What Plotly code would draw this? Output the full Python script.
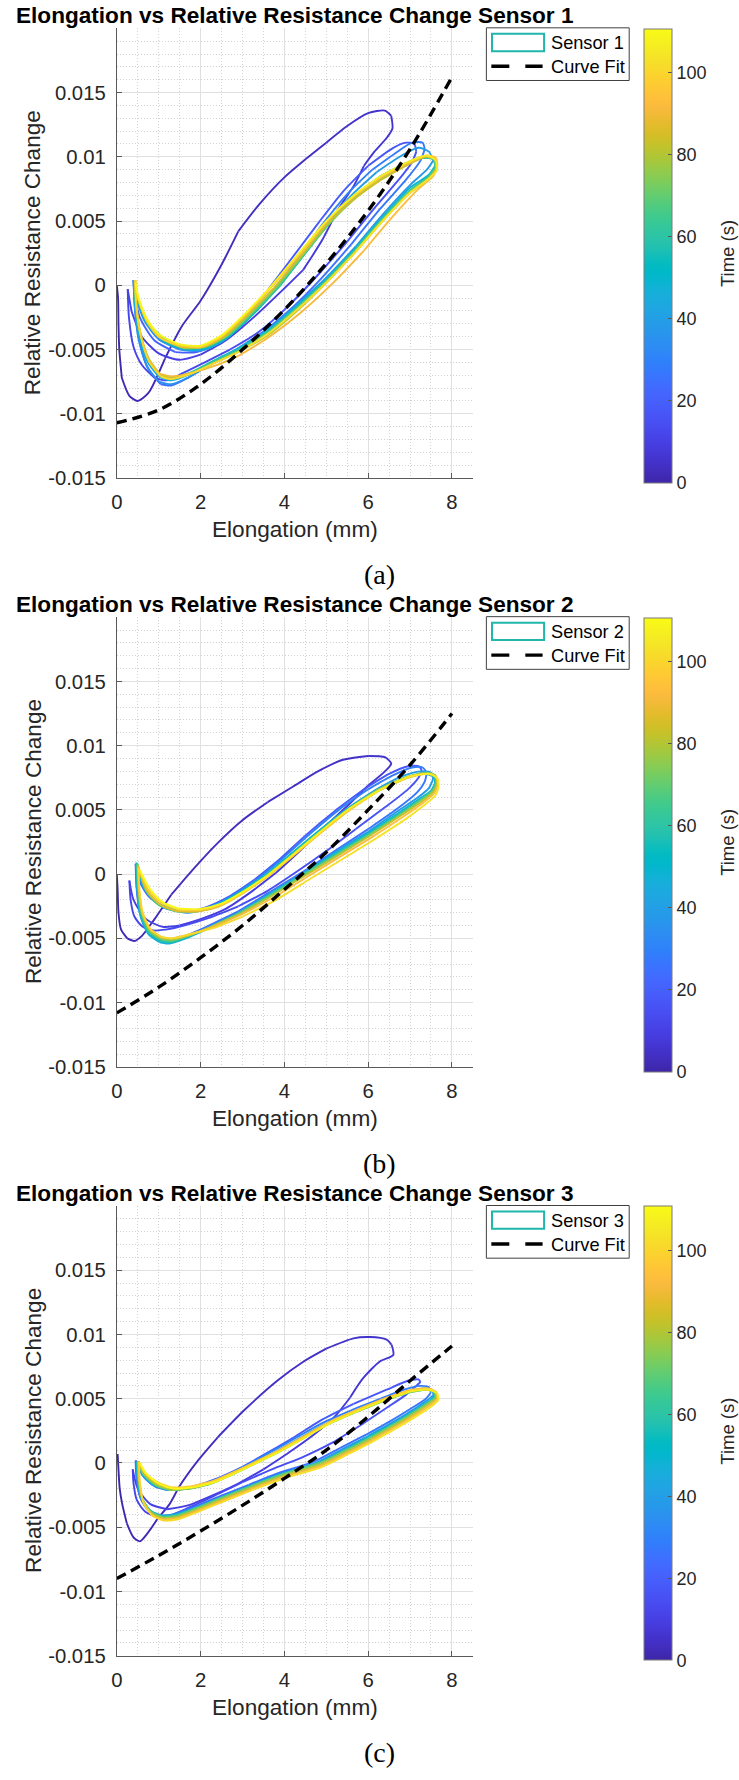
import plotly.graph_objects as go
from plotly.colors import sample_colorscale

W, H = 739, 1780
FONT = "Liberation Sans, Arial, Helvetica, sans-serif"
SERIF = "Liberation Serif, Times New Roman, serif"

# MATLAB parula colormap (64 entries)
PARULA = [
    (0.2422, 0.1504, 0.6603), (0.2504, 0.1650, 0.7076), (0.2578, 0.1818, 0.7511), (0.2647, 0.1978, 0.7952),
    (0.2706, 0.2147, 0.8364), (0.2751, 0.2342, 0.8710), (0.2783, 0.2559, 0.8991), (0.2803, 0.2782, 0.9221),
    (0.2813, 0.3006, 0.9414), (0.2810, 0.3228, 0.9579), (0.2795, 0.3447, 0.9717), (0.2760, 0.3667, 0.9829),
    (0.2699, 0.3892, 0.9906), (0.2602, 0.4123, 0.9952), (0.2440, 0.4358, 0.9988), (0.2206, 0.4603, 0.9973),
    (0.1963, 0.4847, 0.9892), (0.1834, 0.5074, 0.9798), (0.1786, 0.5289, 0.9682), (0.1764, 0.5499, 0.9520),
    (0.1687, 0.5703, 0.9359), (0.1540, 0.5902, 0.9218), (0.1460, 0.6091, 0.9079), (0.1380, 0.6276, 0.8973),
    (0.1248, 0.6459, 0.8883), (0.1113, 0.6635, 0.8763), (0.0952, 0.6798, 0.8598), (0.0689, 0.6948, 0.8394),
    (0.0297, 0.7082, 0.8163), (0.0036, 0.7203, 0.7917), (0.0067, 0.7312, 0.7660), (0.0433, 0.7411, 0.7394),
    (0.0964, 0.7500, 0.7120), (0.1408, 0.7584, 0.6842), (0.1717, 0.7670, 0.6554), (0.1938, 0.7758, 0.6251),
    (0.2161, 0.7843, 0.5923), (0.2470, 0.7918, 0.5567), (0.2906, 0.7973, 0.5188), (0.3406, 0.8008, 0.4789),
    (0.3909, 0.8029, 0.4354), (0.4456, 0.8024, 0.3909), (0.5044, 0.7993, 0.3480), (0.5616, 0.7942, 0.3045),
    (0.6174, 0.7876, 0.2612), (0.6720, 0.7793, 0.2227), (0.7242, 0.7698, 0.1910), (0.7738, 0.7598, 0.1646),
    (0.8203, 0.7498, 0.1535), (0.8634, 0.7406, 0.1596), (0.9035, 0.7330, 0.1774), (0.9393, 0.7288, 0.2100),
    (0.9728, 0.7298, 0.2394), (0.9956, 0.7434, 0.2371), (0.9970, 0.7659, 0.2199), (0.9952, 0.7893, 0.2028),
    (0.9892, 0.8136, 0.1885), (0.9786, 0.8386, 0.1766), (0.9676, 0.8639, 0.1643), (0.9610, 0.8890, 0.1537),
    (0.9597, 0.9135, 0.1423), (0.9628, 0.9373, 0.1265), (0.9691, 0.9606, 0.1064), (0.9769, 0.9839, 0.0805),
]
PARULA_SCALE = [[i / 63, "rgb(%d,%d,%d)" % (round(r * 255), round(g * 255), round(b * 255))]
                for i, (r, g, b) in enumerate(PARULA)]

# ---------------- data ----------------
T_MAX = 110.7                                   # end of recording (s)
CYCLE_EDGES = [0, 11, 22, 33, 44, 55, 66, 77, 88, 99, 110.7]   # start/end time of each stretch cycle (s)

FIT_X = [0, 1, 2, 3, 4, 5, 6, 7, 8]
S1_FIT = [-0.0107, -0.0097, -0.0077, -0.0050, -0.0019, 0.0017, 0.0058, 0.0106, 0.0162]
S2_FIT = [-0.0108, -0.0088, -0.0065, -0.0040, -0.0012, 0.0017, 0.0050, 0.0085, 0.0125]
S3_FIT = [-0.0090, -0.0072, -0.0053, -0.0033, -0.0012, 0.0010, 0.0036, 0.0064, 0.0091]

# (elongation mm, relative resistance change) along each cycle, sensor 1
S1_CYCLES = [
    [(0.00, 0.0000), (0.03, -0.0010), (0.04, -0.0030), (0.06, -0.0050), (0.12, -0.0072), (0.30, -0.0086),
     (0.50, -0.0090), (0.75, -0.0084), (1.15, -0.0057), (1.55, -0.0032), (2.00, -0.0012), (2.50, 0.0016),
     (2.90, 0.0042), (3.40, 0.0063), (4.00, 0.0084), (4.50, 0.0098), (5.00, 0.0111), (5.50, 0.0124),
     (6.00, 0.0134), (6.40, 0.0136), (6.55, 0.0132), (6.58, 0.0122), (6.45, 0.0115), (6.15, 0.0104),
     (5.90, 0.0093), (5.65, 0.0077), (5.30, 0.0060), (4.90, 0.0035), (4.45, 0.0012), (3.95, -0.0004),
     (3.30, -0.0024), (2.60, -0.0043), (2.00, -0.0054), (1.50, -0.0058), (1.00, -0.0053), (0.60, -0.0040),
     (0.35, -0.0020), (0.26, -0.0003)],
    [(0.26, -0.0003), (0.29, -0.0025), (0.40, -0.0048), (0.60, -0.0062), (0.90, -0.0072), (1.20, -0.0074),
     (1.60, -0.0068), (2.10, -0.0060), (2.70, -0.0050), (3.40, -0.0036), (4.10, -0.0016), (4.80, 0.0008),
     (5.50, 0.0034), (6.20, 0.0062), (6.80, 0.0085), (7.05, 0.0096), (7.15, 0.0104), (7.10, 0.0110),
     (6.90, 0.0111), (6.60, 0.0107), (6.00, 0.0093), (5.40, 0.0073), (4.80, 0.0048), (4.20, 0.0022),
     (3.60, -0.0004), (3.00, -0.0026), (2.40, -0.0044), (1.90, -0.0052), (1.40, -0.0052), (0.90, -0.0043),
     (0.55, -0.0025), (0.42, -0.0005), (0.40, 0.0004)],
    [(0.40, 0.0004), (0.44, -0.0020), (0.55, -0.0045), (0.75, -0.0065), (1.05, -0.0077), (1.30, -0.0078),
     (1.70, -0.0072), (2.20, -0.0062), (2.80, -0.0051), (3.50, -0.0036), (4.20, -0.0017), (4.90, 0.0006),
     (5.60, 0.0032), (6.30, 0.0060), (6.90, 0.0082), (7.25, 0.0097), (7.35, 0.0106), (7.30, 0.0111),
     (7.05, 0.0111), (6.70, 0.0104), (6.10, 0.0090), (5.50, 0.0071), (4.90, 0.0047), (4.30, 0.0020),
     (3.70, -0.0006), (3.10, -0.0027), (2.50, -0.0044), (2.00, -0.0051), (1.50, -0.0050), (1.00, -0.0042),
     (0.65, -0.0027), (0.45, -0.0008), (0.40, 0.0004)],
    [(0.40, 0.0004), (0.43, -0.0018), (0.52, -0.0042), (0.72, -0.0063), (1.00, -0.0075), (1.30, -0.0077),
     (1.75, -0.0071), (2.30, -0.0060), (2.90, -0.0050), (3.60, -0.0035), (4.30, -0.0015), (5.00, 0.0006),
     (5.70, 0.0030), (6.40, 0.0057), (7.00, 0.0078), (7.40, 0.0090), (7.55, 0.0097), (7.45, 0.0104),
     (7.20, 0.0107), (6.80, 0.0101), (6.20, 0.0088), (5.60, 0.0070), (5.00, 0.0048), (4.40, 0.0022),
     (3.80, -0.0003), (3.20, -0.0024), (2.60, -0.0042), (2.10, -0.0050), (1.60, -0.0050), (1.10, -0.0043),
     (0.70, -0.0029), (0.47, -0.0009), (0.41, 0.0004)],
    [(0.41, 0.0004), (0.44, -0.0017), (0.54, -0.0040), (0.74, -0.0060), (1.00, -0.0071), (1.30, -0.0074),
     (1.75, -0.0069), (2.30, -0.0059), (2.90, -0.0049), (3.60, -0.0035), (4.30, -0.0016), (5.00, 0.0005),
     (5.70, 0.0029), (6.40, 0.0055), (7.00, 0.0076), (7.45, 0.0086), (7.60, 0.0093), (7.55, 0.0099),
     (7.30, 0.0100), (6.90, 0.0095), (6.30, 0.0085), (5.70, 0.0070), (5.10, 0.0050), (4.50, 0.0025),
     (3.90, 0.0000), (3.30, -0.0021), (2.70, -0.0039), (2.20, -0.0048), (1.70, -0.0050), (1.20, -0.0045),
     (0.80, -0.0033), (0.52, -0.0013), (0.42, 0.0004)],
    [(0.42, 0.0004), (0.45, -0.0016), (0.55, -0.0038), (0.75, -0.0058), (1.00, -0.0069), (1.30, -0.0072),
     (1.75, -0.0068), (2.30, -0.0059), (2.90, -0.0050), (3.60, -0.0036), (4.30, -0.0017), (5.00, 0.0004),
     (5.70, 0.0028), (6.40, 0.0054), (7.00, 0.0074), (7.45, 0.0085), (7.60, 0.0092), (7.56, 0.0098),
     (7.30, 0.0099), (6.90, 0.0095), (6.30, 0.0084), (5.70, 0.0069), (5.10, 0.0049), (4.50, 0.0025),
     (3.90, 0.0000), (3.30, -0.0020), (2.70, -0.0038), (2.20, -0.0047), (1.70, -0.0048), (1.20, -0.0043),
     (0.80, -0.0031), (0.52, -0.0012), (0.43, 0.0004)],
    [(0.43, 0.0004), (0.46, -0.0016), (0.56, -0.0038), (0.76, -0.0058), (1.02, -0.0070), (1.30, -0.0073),
     (1.75, -0.0069), (2.30, -0.0060), (2.90, -0.0051), (3.60, -0.0037), (4.30, -0.0018), (5.00, 0.0003),
     (5.70, 0.0027), (6.40, 0.0053), (7.00, 0.0073), (7.45, 0.0084), (7.62, 0.0091), (7.58, 0.0098),
     (7.35, 0.0100), (6.90, 0.0094), (6.30, 0.0083), (5.70, 0.0068), (5.10, 0.0049), (4.40, 0.0022),
     (3.80, -0.0002), (3.20, -0.0022), (2.60, -0.0040), (2.10, -0.0048), (1.60, -0.0049), (1.10, -0.0042),
     (0.75, -0.0029), (0.50, -0.0010), (0.43, 0.0004)],
    [(0.43, 0.0004), (0.46, -0.0015), (0.56, -0.0037), (0.76, -0.0057), (1.02, -0.0069), (1.30, -0.0072),
     (1.75, -0.0069), (2.30, -0.0061), (2.90, -0.0052), (3.60, -0.0039), (4.30, -0.0020), (5.00, 0.0002),
     (5.70, 0.0026), (6.40, 0.0052), (7.00, 0.0072), (7.45, 0.0083), (7.62, 0.0090), (7.60, 0.0098),
     (7.38, 0.0100), (6.90, 0.0093), (6.30, 0.0082), (5.70, 0.0068), (5.00, 0.0047), (4.40, 0.0023),
     (3.75, -0.0002), (3.15, -0.0022), (2.55, -0.0040), (2.05, -0.0048), (1.55, -0.0048), (1.05, -0.0041),
     (0.72, -0.0028), (0.50, -0.0009), (0.44, 0.0004)],
    [(0.44, 0.0004), (0.47, -0.0016), (0.57, -0.0038), (0.77, -0.0058), (1.03, -0.0069), (1.30, -0.0071),
     (1.80, -0.0068), (2.40, -0.0062), (2.90, -0.0055), (3.60, -0.0041), (4.40, -0.0021), (5.20, 0.0003),
     (5.90, 0.0027), (6.60, 0.0054), (7.20, 0.0075), (7.55, 0.0085), (7.65, 0.0092), (7.62, 0.0099),
     (7.40, 0.0101), (6.95, 0.0095), (6.30, 0.0084), (5.70, 0.0070), (5.00, 0.0049), (4.40, 0.0025),
     (3.70, -0.0001), (3.10, -0.0022), (2.50, -0.0040), (2.00, -0.0048), (1.50, -0.0047), (1.00, -0.0040),
     (0.70, -0.0027), (0.50, -0.0009), (0.44, 0.0004)],
    [(0.44, 0.0004), (0.47, -0.0017), (0.57, -0.0039), (0.78, -0.0060), (1.05, -0.0071), (1.30, -0.0073),
     (1.75, -0.0069), (2.30, -0.0061), (2.90, -0.0052), (3.60, -0.0038), (4.30, -0.0019), (5.00, 0.0002),
     (5.70, 0.0026), (6.40, 0.0052), (7.00, 0.0072), (7.45, 0.0083), (7.64, 0.0089), (7.62, 0.0097),
     (7.40, 0.0101), (6.95, 0.0096), (6.30, 0.0085), (5.70, 0.0071), (5.00, 0.0050), (4.35, 0.0025),
     (3.70, 0.0000), (3.10, -0.0021), (2.50, -0.0039), (2.00, -0.0047), (1.50, -0.0046), (1.00, -0.0038),
     (0.70, -0.0025), (0.50, -0.0007), (0.45, 0.0002)],
]

# sensor 2
S2_CYCLES = [
    [(0.00, 0.0000), (0.02, -0.0012), (0.04, -0.0030), (0.10, -0.0043), (0.25, -0.0050), (0.42, -0.0052),
     (0.60, -0.0048), (0.90, -0.0035), (1.30, -0.0016), (1.80, 0.0003), (2.40, 0.0024), (3.00, 0.0042),
     (3.60, 0.0056), (4.20, 0.0068), (4.80, 0.0080), (5.40, 0.0089), (6.00, 0.0092), (6.40, 0.0091),
     (6.55, 0.0086), (6.40, 0.0080), (6.00, 0.0069), (5.50, 0.0053), (5.00, 0.0038), (4.40, 0.0019),
     (3.80, 0.0001), (3.20, -0.0014), (2.60, -0.0027), (2.00, -0.0035), (1.50, -0.0040), (1.10, -0.0041),
     (0.70, -0.0035), (0.40, -0.0020), (0.30, -0.0005)],
    [(0.30, -0.0005), (0.33, -0.0020), (0.42, -0.0033), (0.62, -0.0041), (0.90, -0.0044), (1.20, -0.0043),
     (1.60, -0.0040), (2.20, -0.0034), (2.90, -0.0025), (3.60, -0.0013), (4.30, 0.0002), (5.00, 0.0018),
     (5.70, 0.0035), (6.40, 0.0052), (6.95, 0.0066), (7.20, 0.0075), (7.28, 0.0081), (7.20, 0.0084),
     (6.95, 0.0084), (6.50, 0.0078), (5.90, 0.0066), (5.20, 0.0049), (4.50, 0.0030), (3.90, 0.0012),
     (3.30, -0.0004), (2.70, -0.0017), (2.10, -0.0026), (1.60, -0.0029), (1.10, -0.0026), (0.75, -0.0017),
     (0.52, -0.0004), (0.45, 0.0008)],
    [(0.45, 0.0008), (0.47, -0.0010), (0.55, -0.0030), (0.72, -0.0044), (0.98, -0.0051), (1.25, -0.0052),
     (1.65, -0.0048), (2.20, -0.0040), (2.90, -0.0029), (3.60, -0.0015), (4.40, 0.0001), (5.20, 0.0018),
     (6.00, 0.0035), (6.70, 0.0051), (7.15, 0.0063), (7.35, 0.0072), (7.40, 0.0079), (7.30, 0.0083),
     (7.05, 0.0083), (6.60, 0.0077), (6.00, 0.0066), (5.30, 0.0050), (4.60, 0.0031), (3.95, 0.0012),
     (3.35, -0.0004), (2.75, -0.0017), (2.20, -0.0026), (1.70, -0.0030), (1.20, -0.0027), (0.85, -0.0019),
     (0.58, -0.0006), (0.46, 0.0008)],
    [(0.46, 0.0008), (0.48, -0.0011), (0.56, -0.0031), (0.74, -0.0045), (1.00, -0.0052), (1.25, -0.0053),
     (1.65, -0.0049), (2.20, -0.0041), (2.90, -0.0030), (3.60, -0.0016), (4.40, 0.0000), (5.20, 0.0017),
     (6.00, 0.0033), (6.70, 0.0049), (7.20, 0.0060), (7.45, 0.0067), (7.55, 0.0074), (7.50, 0.0079),
     (7.25, 0.0080), (6.80, 0.0076), (6.20, 0.0066), (5.50, 0.0051), (4.80, 0.0033), (4.10, 0.0014),
     (3.50, -0.0002), (2.90, -0.0015), (2.35, -0.0024), (1.85, -0.0029), (1.35, -0.0028), (0.95, -0.0022),
     (0.65, -0.0011), (0.47, 0.0008)],
    [(0.47, 0.0009), (0.49, -0.0012), (0.57, -0.0033), (0.76, -0.0047), (1.02, -0.0053), (1.25, -0.0054),
     (1.65, -0.0050), (2.20, -0.0042), (2.90, -0.0031), (3.60, -0.0017), (4.40, -0.0001), (5.20, 0.0016),
     (6.00, 0.0032), (6.70, 0.0047), (7.20, 0.0058), (7.50, 0.0065), (7.60, 0.0071), (7.56, 0.0076),
     (7.35, 0.0078), (6.90, 0.0075), (6.20, 0.0065), (5.50, 0.0050), (4.80, 0.0033), (4.10, 0.0014),
     (3.50, -0.0002), (2.90, -0.0015), (2.40, -0.0024), (1.90, -0.0028), (1.40, -0.0028), (1.00, -0.0023),
     (0.70, -0.0013), (0.48, 0.0008)],
    [(0.48, 0.0008), (0.50, -0.0012), (0.58, -0.0032), (0.77, -0.0046), (1.03, -0.0052), (1.28, -0.0053),
     (1.68, -0.0049), (2.25, -0.0041), (2.95, -0.0030), (3.65, -0.0016), (4.45, 0.0000), (5.25, 0.0016),
     (6.05, 0.0032), (6.75, 0.0047), (7.25, 0.0058), (7.52, 0.0065), (7.62, 0.0071), (7.58, 0.0076),
     (7.38, 0.0078), (6.90, 0.0075), (6.20, 0.0065), (5.50, 0.0050), (4.80, 0.0032), (4.10, 0.0013),
     (3.50, -0.0003), (2.90, -0.0016), (2.40, -0.0025), (1.90, -0.0029), (1.40, -0.0029), (1.00, -0.0024),
     (0.70, -0.0013), (0.49, 0.0008)],
    [(0.49, 0.0008), (0.51, -0.0011), (0.59, -0.0031), (0.78, -0.0045), (1.05, -0.0051), (1.30, -0.0052),
     (1.70, -0.0048), (2.25, -0.0041), (2.95, -0.0030), (3.70, -0.0016), (4.50, 0.0000), (5.30, 0.0016),
     (6.10, 0.0032), (6.80, 0.0047), (7.28, 0.0058), (7.55, 0.0065), (7.64, 0.0071), (7.60, 0.0077),
     (7.40, 0.0079), (6.95, 0.0076), (6.25, 0.0066), (5.55, 0.0051), (4.85, 0.0033), (4.15, 0.0014),
     (3.55, -0.0002), (2.95, -0.0015), (2.45, -0.0024), (1.95, -0.0029), (1.45, -0.0029), (1.05, -0.0024),
     (0.72, -0.0013), (0.50, 0.0007)],
    [(0.50, 0.0007), (0.52, -0.0011), (0.60, -0.0030), (0.79, -0.0044), (1.05, -0.0050), (1.30, -0.0051),
     (1.70, -0.0048), (2.25, -0.0041), (2.95, -0.0031), (3.70, -0.0017), (4.50, -0.0001), (5.30, 0.0015),
     (6.10, 0.0031), (6.80, 0.0046), (7.30, 0.0057), (7.56, 0.0064), (7.65, 0.0070), (7.62, 0.0076),
     (7.42, 0.0078), (6.95, 0.0075), (6.25, 0.0065), (5.55, 0.0050), (4.85, 0.0032), (4.15, 0.0013),
     (3.55, -0.0003), (2.95, -0.0016), (2.45, -0.0025), (1.95, -0.0029), (1.45, -0.0029), (1.05, -0.0024),
     (0.72, -0.0013), (0.51, 0.0006)],
    [(0.51, 0.0006), (0.53, -0.0012), (0.61, -0.0030), (0.80, -0.0043), (1.06, -0.0049), (1.32, -0.0050),
     (1.72, -0.0047), (2.30, -0.0041), (3.00, -0.0031), (3.75, -0.0018), (4.55, -0.0002), (5.35, 0.0014),
     (6.15, 0.0030), (6.85, 0.0045), (7.33, 0.0056), (7.58, 0.0063), (7.66, 0.0069), (7.64, 0.0075),
     (7.45, 0.0078), (7.00, 0.0076), (6.30, 0.0066), (5.60, 0.0051), (4.90, 0.0033), (4.20, 0.0014),
     (3.60, -0.0002), (3.00, -0.0015), (2.50, -0.0024), (2.00, -0.0028), (1.50, -0.0028), (1.10, -0.0023),
     (0.75, -0.0012), (0.52, 0.0005)],
    [(0.52, 0.0005), (0.54, -0.0012), (0.62, -0.0030), (0.81, -0.0043), (1.07, -0.0049), (1.33, -0.0050),
     (1.73, -0.0047), (2.30, -0.0042), (3.00, -0.0033), (3.80, -0.0020), (4.60, -0.0004), (5.40, 0.0012),
     (6.20, 0.0028), (6.90, 0.0043), (7.35, 0.0054), (7.60, 0.0061), (7.68, 0.0067), (7.66, 0.0074),
     (7.48, 0.0078), (7.00, 0.0076), (6.30, 0.0066), (5.60, 0.0052), (4.90, 0.0034), (4.20, 0.0015),
     (3.60, -0.0001), (3.00, -0.0014), (2.50, -0.0023), (2.00, -0.0027), (1.50, -0.0027), (1.10, -0.0022),
     (0.78, -0.0011), (0.55, 0.0003)],
]

# sensor 3
S3_CYCLES = [
    [(0.02, 0.0007), (0.04, -0.0005), (0.07, -0.0020), (0.13, -0.0032), (0.24, -0.0047), (0.40, -0.0058),
     (0.55, -0.0061), (0.75, -0.0054), (0.98, -0.0043), (1.26, -0.0032), (1.50, -0.0018), (1.94, 0.0002),
     (2.41, 0.0020), (3.04, 0.0041), (3.83, 0.0064), (4.46, 0.0079), (5.00, 0.0089), (5.65, 0.0097),
     (6.04, 0.0098), (6.44, 0.0096), (6.56, 0.0092), (6.60, 0.0084), (6.28, 0.0079), (5.88, 0.0066),
     (5.57, 0.0051), (5.20, 0.0036), (4.70, 0.0022), (4.10, 0.0008), (3.50, -0.0005), (2.90, -0.0016),
     (2.30, -0.0025), (1.70, -0.0033), (1.20, -0.0036), (0.80, -0.0032), (0.50, -0.0020), (0.38, -0.0005)],
    [(0.38, -0.0005), (0.40, -0.0016), (0.48, -0.0029), (0.68, -0.0038), (0.95, -0.0042), (1.25, -0.0041),
     (1.70, -0.0035), (2.30, -0.0026), (3.00, -0.0015), (3.70, -0.0005), (4.40, 0.0004), (5.10, 0.0015),
     (5.80, 0.0029), (6.40, 0.0042), (6.90, 0.0053), (7.15, 0.0060), (7.25, 0.0063), (7.20, 0.0065),
     (6.95, 0.0064), (6.44, 0.0057), (5.65, 0.0046), (4.86, 0.0033), (4.23, 0.0020), (3.60, 0.0008),
     (3.00, -0.0003), (2.40, -0.0012), (1.85, -0.0018), (1.35, -0.0021), (0.95, -0.0019), (0.65, -0.0011),
     (0.48, 0.0000), (0.45, 0.0002)],
    [(0.45, 0.0002), (0.47, -0.0012), (0.56, -0.0027), (0.76, -0.0037), (1.05, -0.0041), (1.35, -0.0040),
     (1.85, -0.0034), (2.45, -0.0026), (3.15, -0.0017), (3.85, -0.0008), (4.70, 0.0001), (5.35, 0.0012),
     (5.95, 0.0022), (6.55, 0.0033), (7.05, 0.0043), (7.38, 0.0050), (7.50, 0.0055), (7.45, 0.0059),
     (7.25, 0.0060), (6.85, 0.0057), (6.30, 0.0050), (5.60, 0.0041), (4.90, 0.0031), (4.30, 0.0020),
     (3.70, 0.0009), (3.20, 0.0000), (2.65, -0.0009), (2.15, -0.0016), (1.65, -0.0020), (1.20, -0.0021),
     (0.85, -0.0017), (0.60, -0.0009), (0.47, 0.0001)],
    [(0.47, 0.0001), (0.49, -0.0013), (0.58, -0.0028), (0.78, -0.0038), (1.07, -0.0042), (1.37, -0.0041),
     (1.87, -0.0035), (2.47, -0.0027), (3.17, -0.0018), (3.87, -0.0009), (4.75, 0.0000), (5.40, 0.0011),
     (6.00, 0.0021), (6.60, 0.0032), (7.10, 0.0042), (7.42, 0.0049), (7.56, 0.0053), (7.52, 0.0057),
     (7.32, 0.0058), (6.90, 0.0055), (6.35, 0.0049), (5.65, 0.0040), (4.95, 0.0030), (4.35, 0.0019),
     (3.75, 0.0008), (3.25, 0.0000), (2.70, -0.0009), (2.20, -0.0016), (1.70, -0.0020), (1.25, -0.0021),
     (0.88, -0.0017), (0.62, -0.0009), (0.48, 0.0001)],
    [(0.48, 0.0001), (0.50, -0.0012), (0.59, -0.0027), (0.80, -0.0037), (1.08, -0.0041), (1.38, -0.0040),
     (1.88, -0.0035), (2.48, -0.0027), (3.18, -0.0018), (3.90, -0.0009), (4.80, 0.0000), (5.42, 0.0010),
     (6.02, 0.0021), (6.62, 0.0031), (7.12, 0.0041), (7.45, 0.0048), (7.58, 0.0052), (7.55, 0.0056),
     (7.36, 0.0058), (6.95, 0.0055), (6.38, 0.0049), (5.70, 0.0040), (5.00, 0.0030), (4.40, 0.0019),
     (3.80, 0.0008), (3.30, 0.0000), (2.72, -0.0009), (2.22, -0.0016), (1.72, -0.0020), (1.27, -0.0021),
     (0.90, -0.0017), (0.63, -0.0009), (0.49, 0.0001)],
    [(0.49, 0.0001), (0.51, -0.0013), (0.60, -0.0028), (0.81, -0.0038), (1.10, -0.0042), (1.40, -0.0041),
     (1.90, -0.0035), (2.50, -0.0027), (3.20, -0.0018), (3.92, -0.0009), (4.82, 0.0000), (5.45, 0.0010),
     (6.05, 0.0020), (6.65, 0.0031), (7.15, 0.0041), (7.47, 0.0048), (7.60, 0.0051), (7.57, 0.0055),
     (7.38, 0.0057), (6.97, 0.0055), (6.40, 0.0049), (5.72, 0.0040), (5.02, 0.0030), (4.42, 0.0019),
     (3.82, 0.0008), (3.32, 0.0000), (2.74, -0.0009), (2.24, -0.0016), (1.74, -0.0020), (1.29, -0.0021),
     (0.92, -0.0017), (0.64, -0.0009), (0.50, 0.0001)],
    [(0.50, 0.0001), (0.52, -0.0013), (0.61, -0.0028), (0.82, -0.0038), (1.11, -0.0042), (1.41, -0.0041),
     (1.91, -0.0035), (2.51, -0.0027), (3.21, -0.0018), (3.94, -0.0009), (4.84, 0.0000), (5.47, 0.0010),
     (6.07, 0.0020), (6.67, 0.0031), (7.17, 0.0041), (7.49, 0.0048), (7.62, 0.0051), (7.59, 0.0055),
     (7.40, 0.0057), (7.00, 0.0055), (6.42, 0.0049), (5.74, 0.0040), (5.04, 0.0030), (4.44, 0.0019),
     (3.84, 0.0008), (3.34, 0.0000), (2.76, -0.0009), (2.26, -0.0016), (1.76, -0.0020), (1.31, -0.0021),
     (0.94, -0.0017), (0.65, -0.0009), (0.51, 0.0001)],
    [(0.51, 0.0001), (0.53, -0.0014), (0.62, -0.0029), (0.83, -0.0039), (1.12, -0.0043), (1.42, -0.0042),
     (1.92, -0.0036), (2.52, -0.0028), (3.22, -0.0019), (3.96, -0.0010), (4.86, -0.0001), (5.49, 0.0009),
     (6.09, 0.0019), (6.69, 0.0030), (7.19, 0.0040), (7.51, 0.0047), (7.64, 0.0050), (7.61, 0.0055),
     (7.42, 0.0057), (7.02, 0.0056), (6.44, 0.0050), (5.76, 0.0041), (5.06, 0.0031), (4.46, 0.0020),
     (3.86, 0.0009), (3.36, 0.0001), (2.78, -0.0008), (2.28, -0.0015), (1.78, -0.0019), (1.33, -0.0020),
     (0.96, -0.0016), (0.66, -0.0008), (0.52, 0.0001)],
    [(0.52, 0.0001), (0.54, -0.0014), (0.63, -0.0030), (0.84, -0.0040), (1.13, -0.0044), (1.43, -0.0043),
     (1.93, -0.0037), (2.53, -0.0029), (3.23, -0.0020), (3.98, -0.0011), (4.88, -0.0002), (5.51, 0.0008),
     (6.11, 0.0018), (6.71, 0.0029), (7.21, 0.0039), (7.53, 0.0046), (7.66, 0.0050), (7.63, 0.0055),
     (7.44, 0.0058), (7.04, 0.0057), (6.46, 0.0051), (5.78, 0.0042), (5.08, 0.0032), (4.48, 0.0021),
     (3.88, 0.0010), (3.38, 0.0002), (2.80, -0.0007), (2.30, -0.0014), (1.80, -0.0018), (1.35, -0.0019),
     (0.98, -0.0015), (0.68, -0.0008), (0.53, 0.0001)],
    [(0.53, 0.0001), (0.55, -0.0015), (0.64, -0.0031), (0.85, -0.0041), (1.14, -0.0045), (1.44, -0.0044),
     (1.94, -0.0038), (2.54, -0.0030), (3.24, -0.0021), (4.00, -0.0012), (4.90, -0.0003), (5.53, 0.0007),
     (6.13, 0.0017), (6.73, 0.0028), (7.23, 0.0038), (7.55, 0.0045), (7.68, 0.0049), (7.65, 0.0054),
     (7.46, 0.0057), (7.06, 0.0056), (6.48, 0.0050), (5.80, 0.0041), (5.10, 0.0031), (4.50, 0.0020),
     (3.90, 0.0009), (3.40, 0.0001), (2.82, -0.0008), (2.32, -0.0015), (1.82, -0.0019), (1.37, -0.0020),
     (1.00, -0.0016), (0.70, -0.0008), (0.55, 0.0000)],
]

SENSORS = ["Sensor 1", "Sensor 2", "Sensor 3"]
CAPTIONS = ["(a)", "(b)", "(c)"]
Y_TICKS = [-0.015, -0.01, -0.005, 0, 0.005, 0.01, 0.015]
Y_TICK_TEXT = ["-0.015", "-0.01", "-0.005", "0", "0.005", "0.01", "0.015"]
CBAR_TICKS = [0, 20, 40, 60, 80, 100]

# ---------------- layout geometry (page pixels) ----------------
AX_L, AX_R = 111.7, 470.7
AX_TOP, AX_BOT = 28.5, 481.0
STEP = 592.5


def px(x):
    return x / W


def py(y):
    return 1 - y / H


fig = go.Figure()
shapes, annotations = [], []

panels = [(S1_CYCLES, S1_FIT), (S2_CYCLES, S2_FIT), (S3_CYCLES, S3_FIT)]
for k, (cycles, fit) in enumerate(panels):
    sfx = "" if k == 0 else str(k + 1)
    xa, ya = "x" + sfx, "y" + sfx
    off = STEP * k

    # cycles drawn in time order, coloured along the path by time
    for i, pts in enumerate(cycles):
        t0, t1 = CYCLE_EDGES[i], CYCLE_EDGES[i + 1]
        n = len(pts)
        for s in range(0, n - 1, 4):
            seg = pts[s:s + 5]
            tm = t0 + (t1 - t0) * (s + (len(seg) - 1) / 2) / (n - 1)
            col = sample_colorscale(PARULA_SCALE, [min(tm / T_MAX, 1.0)])[0]
            fig.add_trace(go.Scatter(
                x=[p[0] for p in seg], y=[p[1] for p in seg], mode="lines",
                line=dict(color=col, width=1.9, shape="spline", smoothing=0.7),
                xaxis=xa, yaxis=ya, showlegend=False, hoverinfo="skip"))

    # curve fit
    fig.add_trace(go.Scatter(
        x=FIT_X, y=fit, mode="lines",
        line=dict(color="black", width=3.4, dash="10px,6px", shape="spline"),
        xaxis=xa, yaxis=ya, showlegend=False, hoverinfo="skip"))

    # colour bar carrier
    fig.add_trace(go.Scatter(
        x=[-10], y=[0], mode="markers", xaxis=xa, yaxis=ya, showlegend=False, hoverinfo="skip",
        marker=dict(size=1, color=[0], cmin=0, cmax=T_MAX, colorscale=PARULA_SCALE, showscale=True,
                    colorbar=dict(
                        thickness=28, thicknessmode="pixels", len=454, lenmode="pixels",
                        x=px(643.3), xanchor="left", xpad=0, y=py(29 + off), yanchor="top", ypad=0,
                        outlinecolor="#7a7a7a", outlinewidth=1, borderwidth=0,
                        tickmode="array", tickvals=CBAR_TICKS, ticks="inside", ticklen=4,
                        tickcolor="#555555", tickfont=dict(family=FONT, size=18, color="#262626")))))

    dom_y = [py(AX_BOT + off), py(AX_TOP + off)]
    fig.update_layout(**{
        "xaxis" + sfx: dict(
            domain=[px(AX_L), px(AX_R)], anchor=ya, range=[0, 8.5], tick0=0, dtick=2,
            showline=True, linecolor="#5a5a5a", linewidth=1, mirror=False,
            ticks="inside", ticklen=5, tickcolor="#5a5a5a",
            showgrid=True, gridcolor="#e0e0e0", gridwidth=1, zeroline=False,
            tickfont=dict(family=FONT, size=20.3, color="#262626"), ticklabelstandoff=6,
            minor=dict(tick0=0, dtick=0.5, showgrid=True, gridcolor="#d2d2d2", griddash="1px,2px",
                       gridwidth=1)),
        "yaxis" + sfx: dict(
            domain=dom_y, anchor=xa, range=[-0.015, 0.02],
            tickmode="array", tickvals=Y_TICKS, ticktext=Y_TICK_TEXT,
            showline=True, linecolor="#5a5a5a", linewidth=1, mirror=False,
            ticks="inside", ticklen=5, tickcolor="#5a5a5a",
            showgrid=True, gridcolor="#e0e0e0", gridwidth=1, zeroline=False,
            tickfont=dict(family=FONT, size=20.3, color="#262626"), ticklabelstandoff=6,
            minor=dict(tick0=0, dtick=0.001, showgrid=True, gridcolor="#d2d2d2", griddash="1px,2px",
                       gridwidth=1)),
    })

    # title, axis labels, caption
    annotations += [
        dict(text="<b>Elongation vs Relative Resistance Change %s</b>" % SENSORS[k],
             x=px(291), y=py(15.5 + off), xanchor="center", yanchor="middle",
             font=dict(family=FONT, size=22.6, color="black")),
        dict(text="Relative Resistance Change", textangle=-90,
             x=px(27), y=py(254 + off), xanchor="center", yanchor="middle",
             font=dict(family=FONT, size=22.6, color="#262626")),
        dict(text="Elongation (mm)", x=px(291), y=py(533 + off), xanchor="center", yanchor="middle",
             font=dict(family=FONT, size=22.6, color="#262626")),
        dict(text=CAPTIONS[k], x=px(377), y=py(578 + off), xanchor="center", yanchor="middle",
             font=dict(family=SERIF, size=28, color="black")),
        dict(text="Time (s)", textangle=-90, x=px(727.5), y=py(255 + off), xanchor="center",
             yanchor="middle", font=dict(family=FONT, size=18.5, color="#262626")),
        dict(text=SENSORS[k], x=px(547.3), y=py(43.3 + off), xanchor="left", yanchor="middle",
             font=dict(family=FONT, size=18.2, color="black")),
        dict(text="Curve Fit", x=px(547.3), y=py(67.8 + off), xanchor="left", yanchor="middle",
             font=dict(family=FONT, size=18.2, color="black")),
    ]

    # legend frame and keys
    shapes += [
        dict(type="rect", xref="paper", yref="paper", x0=px(484.3), x1=px(628.3),
             y0=py(81 + off), y1=py(28 + off), line=dict(color="#404040", width=1), fillcolor="white"),
        dict(type="rect", xref="paper", yref="paper", x0=px(490), x1=px(542.5),
             y0=py(51.5 + off), y1=py(34 + off), line=dict(color="rgb(32,182,170)", width=2),
             fillcolor="white"),
        dict(type="line", xref="paper", yref="paper", x0=px(489.3), x1=px(541),
             y0=py(66.7 + off), y1=py(66.7 + off), line=dict(color="black", width=3.4, dash="18px,16px")),
    ]

for a in annotations:
    a.update(xref="paper", yref="paper", showarrow=False)

fig.update_layout(
    width=W, height=H, margin=dict(l=0, r=0, t=0, b=0),
    paper_bgcolor="white", plot_bgcolor="white",
    showlegend=False, annotations=annotations, shapes=shapes,
)

fig.write_html("out.html")
